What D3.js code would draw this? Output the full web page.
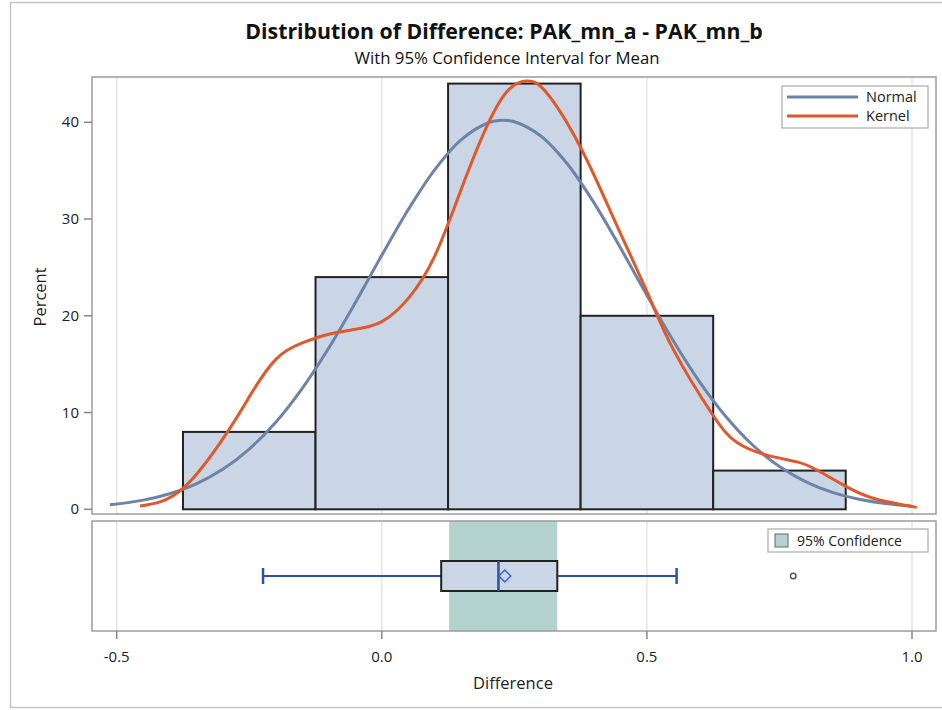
<!DOCTYPE html>
<html>
<head>
<meta charset="utf-8">
<script src="https://cdn.jsdelivr.net/npm/d3@7"></script>
<style>
  html, body { margin: 0; padding: 0; background: #fff; }
  svg { display: block; font-family: "Open Sans", "Liberation Sans", Arial, sans-serif; }
</style>
</head>
<body>
<svg id="chart" width="942" height="710"></svg>
<script>
// Histogram of differences (percent per bin of width 0.25)
const binStarts = [-0.375, -0.125, 0.125, 0.375, 0.625];
const binWidth = 0.25;
const binPercents = [8, 24, 44, 20, 4];

// Fitted normal curve (mean 0.229, sd 0.248), percent scale
const normalX = [-0.513, -0.45, -0.4, -0.35, -0.3, -0.25, -0.2, -0.15, -0.1, -0.05, 0, 0.05, 0.1, 0.15, 0.2, 0.229, 0.25, 0.3, 0.35, 0.4, 0.45, 0.5, 0.55, 0.6, 0.65, 0.7, 0.75, 0.8, 0.85, 0.9, 0.95, 1.0];
const normalY = [0.46, 0.95, 1.61, 2.63, 4.13, 6.23, 9.0, 12.51, 16.68, 21.35, 26.25, 30.98, 35.11, 38.21, 39.93, 40.2, 40.06, 38.58, 35.69, 31.7, 27.03, 22.13, 17.4, 13.13, 9.52, 6.62, 4.42, 2.84, 1.75, 1.03, 0.59, 0.32];

// Kernel density estimate, percent scale
const kernelX = [-0.456, -0.375, -0.291, -0.248, -0.2, -0.15, -0.1, -0.05, 0.0, 0.05, 0.1, 0.15, 0.2, 0.24, 0.273, 0.31, 0.374, 0.437, 0.5, 0.55, 0.6225, 0.67, 0.726, 0.783, 0.8205, 0.871, 0.927, 1.009];
const kernelY = [0.34, 2.17, 8.0, 11.8, 15.5, 17.2, 18.1, 18.6, 19.4, 21.8, 26.2, 33.1, 39.8, 43.4, 44.27, 43.1, 37.5, 30.1, 22.5, 16.5, 9.9, 6.9, 5.6, 4.9, 4.06, 2.5, 1.14, 0.2];

// Box plot summary and confidence interval for the mean
const boxStats = { whiskerLow: -0.224, q1: 0.112, median: 0.22, mean: 0.232, q3: 0.331, whiskerHigh: 0.556 };
const outliers = [0.776];
const meanCI = [0.127, 0.331];

// Axis ticks
const xTicks = [-0.5, 0, 0.5, 1.0];
const xTickLabels = ["-0.5", "0.0", "0.5", "1.0"];
const yTicks = [0, 10, 20, 30, 40];

const svg = d3.select("#chart");

// Panel frames
const L = 92, R = 936;
const top1 = 77, bot1 = 514;
const top2 = 521, bot2 = 631;

const x = d3.scaleLinear().domain([-0.5, 1.0]).range([116.7, 912]);
const y = d3.scaleLinear().domain([0, 40]).range([509.3, 122.3]);

// Outer border
svg.append("rect").attr("x", 10.5).attr("y", 2.5).attr("width", 940).attr("height", 705)
  .attr("fill", "none").attr("stroke", "#c4c4c4").attr("stroke-width", 1.5);

// Titles
svg.append("text").attr("x", 504).attr("y", 38.5).attr("text-anchor", "middle")
  .attr("font-size", 21.3).attr("font-weight", "bold").attr("fill", "#111")
  .text("Distribution of Difference: PAK_mn_a - PAK_mn_b");
svg.append("text").attr("x", 507).attr("y", 63.5).attr("text-anchor", "middle")
  .attr("font-size", 16.8).attr("fill", "#111")
  .text("With 95% Confidence Interval for Mean");

// Panel clips
const defs = svg.append("defs");
defs.append("clipPath").attr("id", "clip1").append("rect")
  .attr("x", L).attr("y", top1).attr("width", R - L).attr("height", bot1 - top1);
defs.append("clipPath").attr("id", "clip2").append("rect")
  .attr("x", L).attr("y", top2).attr("width", R - L).attr("height", bot2 - top2);

const p1 = svg.append("g").attr("clip-path", "url(#clip1)");
const p2 = svg.append("g").attr("clip-path", "url(#clip2)");

// Vertical gridlines
[[p1, top1, bot1], [p2, top2, bot2]].forEach(([g, t, b]) => {
  g.selectAll("line.grid").data(xTicks).join("line").attr("class", "grid")
    .attr("x1", d => x(d)).attr("x2", d => x(d)).attr("y1", t).attr("y2", b)
    .attr("stroke", "#e6e6e6").attr("stroke-width", 1.5);
});

// Histogram bars
p1.selectAll("rect.bar").data(binStarts).join("rect").attr("class", "bar")
  .attr("x", d => x(d)).attr("width", d => x(d + binWidth) - x(d))
  .attr("y", (d, i) => y(binPercents[i])).attr("height", (d, i) => y(0) - y(binPercents[i]))
  .attr("fill", "#cad5e5").attr("stroke", "#222").attr("stroke-width", 2);

// Density curves
const lineN = d3.line().x(d => x(d[0])).y(d => y(d[1])).curve(d3.curveCatmullRom.alpha(0.5));
const lineK = d3.line().x(d => x(d[0])).y(d => y(d[1])).curve(d3.curveNatural);
p1.append("path").datum(normalX.map((v, i) => [v, normalY[i]]))
  .attr("d", lineN).attr("fill", "none").attr("stroke", "#6c84a8").attr("stroke-width", 3);
p1.append("path").datum(kernelX.map((v, i) => [v, kernelY[i]]))
  .attr("d", lineK).attr("fill", "none").attr("stroke", "#e0592a").attr("stroke-width", 3);

// Confidence band in lower panel
p2.append("rect").attr("x", x(meanCI[0])).attr("width", x(meanCI[1]) - x(meanCI[0]))
  .attr("y", top2).attr("height", bot2 - top2).attr("fill", "#b4d3ce");

// Box plot
const by = 576, bh = 30, capH = 16;
const blue = "#2c4fae";
p2.append("line").attr("x1", x(boxStats.whiskerLow)).attr("x2", x(boxStats.q1))
  .attr("y1", by).attr("y2", by).attr("stroke", blue).attr("stroke-width", 2);
p2.append("line").attr("x1", x(boxStats.q3)).attr("x2", x(boxStats.whiskerHigh))
  .attr("y1", by).attr("y2", by).attr("stroke", blue).attr("stroke-width", 2);
[boxStats.whiskerLow, boxStats.whiskerHigh].forEach(v => {
  p2.append("line").attr("x1", x(v)).attr("x2", x(v)).attr("y1", by - capH / 2).attr("y2", by + capH / 2)
    .attr("stroke", blue).attr("stroke-width", 2.5);
});
p2.append("rect").attr("x", x(boxStats.q1)).attr("width", x(boxStats.q3) - x(boxStats.q1))
  .attr("y", by - bh / 2).attr("height", bh)
  .attr("fill", "#cad5e5").attr("stroke", "#222").attr("stroke-width", 2);
p2.append("line").attr("x1", x(boxStats.median)).attr("x2", x(boxStats.median))
  .attr("y1", by - bh / 2).attr("y2", by + bh / 2).attr("stroke", blue).attr("stroke-width", 2.5);
const mx = x(boxStats.mean), ds = 6;
p2.append("path").attr("d", `M${mx - ds},${by}L${mx},${by - ds}L${mx + ds},${by}L${mx},${by + ds}Z`)
  .attr("fill", "none").attr("stroke", "#3a62c8").attr("stroke-width", 1.5);
p2.selectAll("circle.out").data(outliers).join("circle").attr("class", "out")
  .attr("cx", d => x(d)).attr("cy", by).attr("r", 2.8)
  .attr("fill", "#fff").attr("stroke", "#555").attr("stroke-width", 1.4);

// Frames
[[top1, bot1], [top2, bot2]].forEach(([t, b]) => {
  svg.append("rect").attr("x", L).attr("y", t).attr("width", R - L).attr("height", b - t)
    .attr("fill", "none").attr("stroke", "#9c9c9c").attr("stroke-width", 1.5);
});

// Y axis
const yAxis = svg.append("g");
yAxis.selectAll("line").data(yTicks).join("line")
  .attr("x1", L - 8).attr("x2", L).attr("y1", d => y(d)).attr("y2", d => y(d))
  .attr("stroke", "#888").attr("stroke-width", 1.5);
yAxis.selectAll("text").data(yTicks).join("text")
  .attr("x", L - 13).attr("y", d => y(d) + 5).attr("text-anchor", "end")
  .attr("font-size", 15).attr("fill", "#222").text(d => d);
svg.append("text").attr("transform", "translate(46,297) rotate(-90)")
  .attr("text-anchor", "middle").attr("font-size", 16.5).attr("fill", "#222").text("Percent");

// X axis
const xAxis = svg.append("g");
xAxis.selectAll("line").data(xTicks).join("line")
  .attr("x1", d => x(d)).attr("x2", d => x(d)).attr("y1", bot2).attr("y2", bot2 + 8)
  .attr("stroke", "#888").attr("stroke-width", 1.5);
xAxis.selectAll("text").data(xTicks).join("text")
  .attr("x", d => x(d)).attr("y", 662).attr("text-anchor", "middle")
  .attr("font-size", 15).attr("fill", "#222").text((d, i) => xTickLabels[i]);
svg.append("text").attr("x", 513).attr("y", 689).attr("text-anchor", "middle")
  .attr("font-size", 16.5).attr("fill", "#222").text("Difference");

// Curve legend
const leg = svg.append("g");
leg.append("rect").attr("x", 782).attr("y", 86).attr("width", 146).attr("height", 42)
  .attr("fill", "#fff").attr("stroke", "#aaa").attr("stroke-width", 1.2);
[["Normal", "#6c84a8", 97], ["Kernel", "#e0592a", 116]].forEach(([label, col, ly]) => {
  leg.append("line").attr("x1", 787).attr("x2", 858).attr("y1", ly).attr("y2", ly)
    .attr("stroke", col).attr("stroke-width", 3);
  leg.append("text").attr("x", 866).attr("y", ly + 5).attr("font-size", 14.5)
    .attr("fill", "#222").text(label);
});

// Confidence legend
const leg2 = svg.append("g");
leg2.append("rect").attr("x", 768).attr("y", 529).attr("width", 160).attr("height", 23)
  .attr("fill", "#fff").attr("stroke", "#aaa").attr("stroke-width", 1.2);
leg2.append("rect").attr("x", 775).attr("y", 534).attr("width", 13).attr("height", 13)
  .attr("fill", "#b4d3ce").attr("stroke", "#666").attr("stroke-width", 1);
leg2.append("text").attr("x", 797).attr("y", 546).attr("font-size", 14)
  .attr("fill", "#222").text("95% Confidence");
</script>
</body>
</html>
